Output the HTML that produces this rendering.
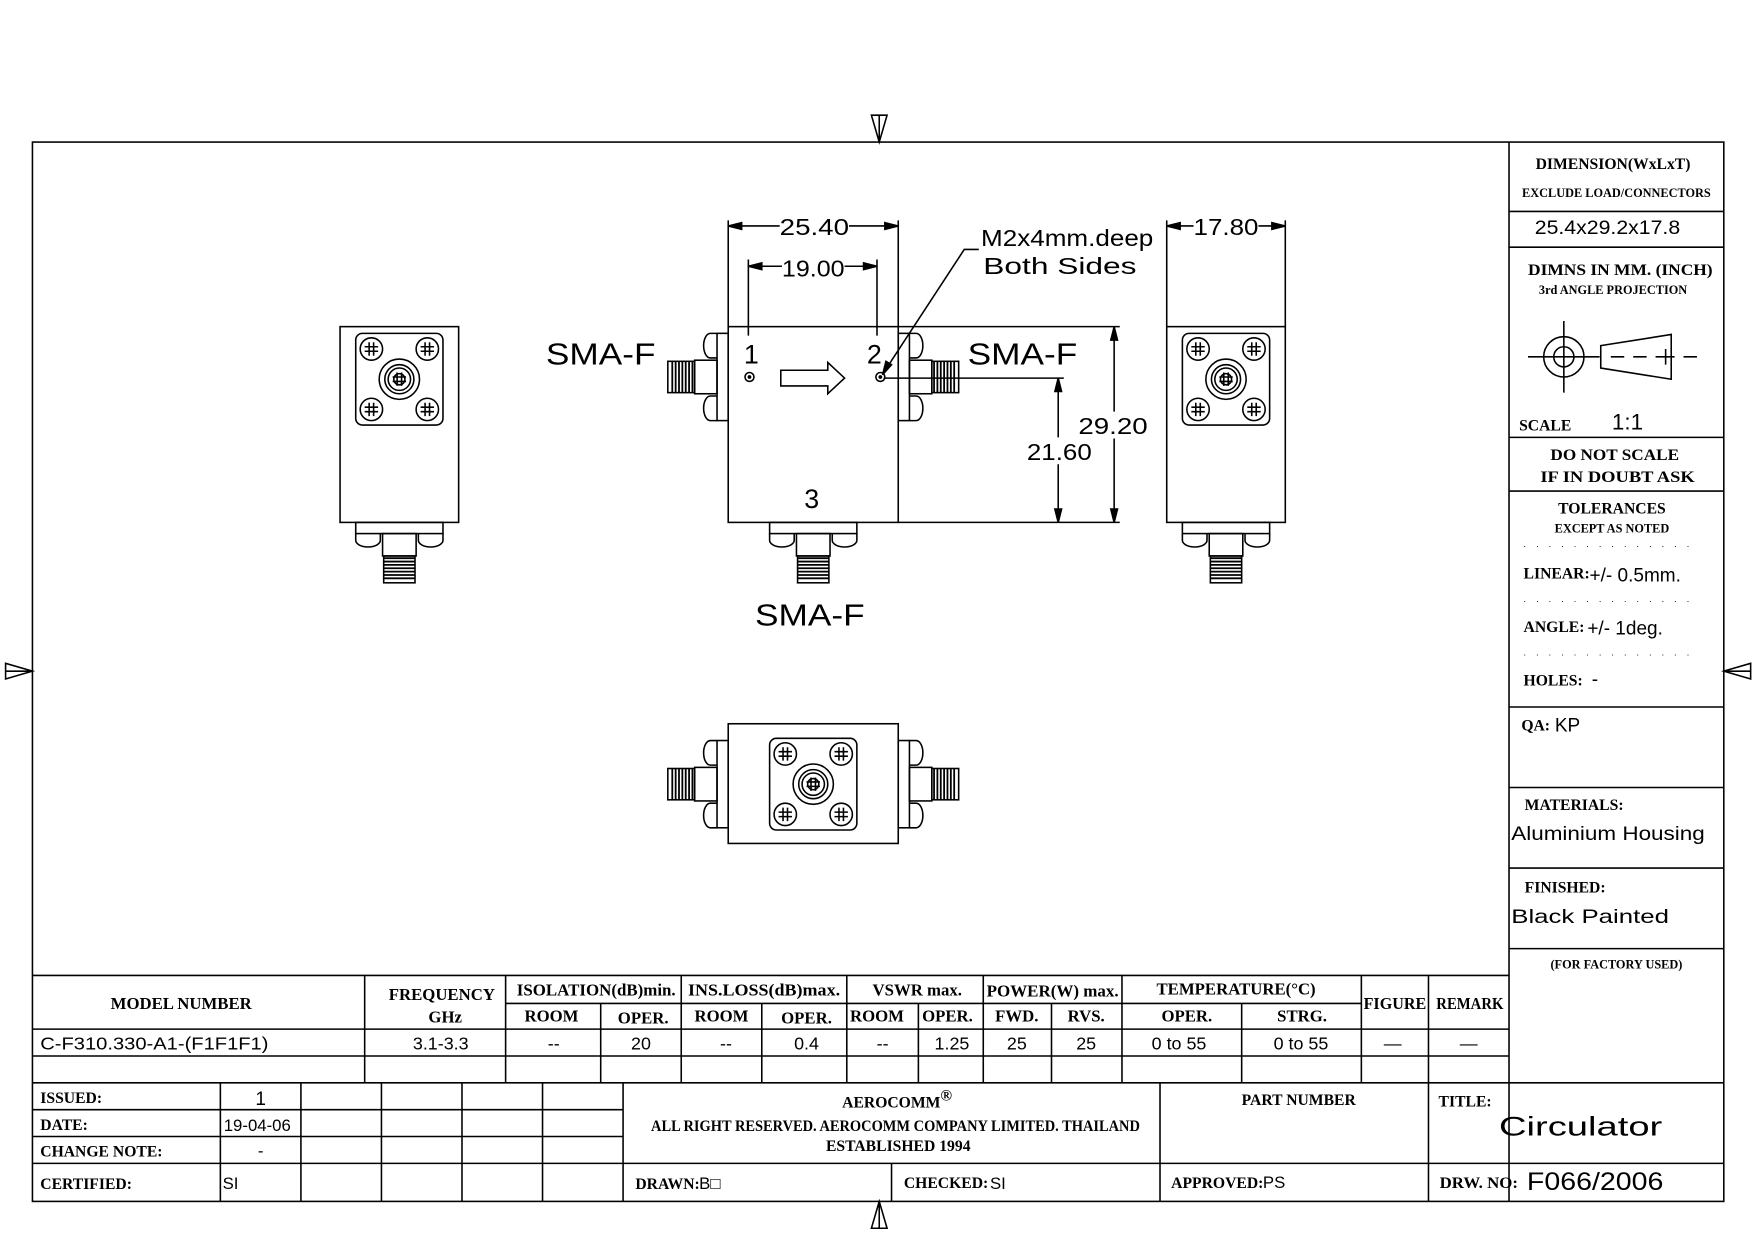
<!DOCTYPE html>
<html><head><meta charset="utf-8"><style>
html,body{margin:0;padding:0;background:#fff}
svg{display:block}
.b{font-family:"Liberation Serif",serif;font-weight:bold;fill:#000}
.s{font-family:"Liberation Sans",sans-serif;fill:#000}
</style></head><body>
<svg width="1754" height="1240" viewBox="0 0 1568 1108.5" preserveAspectRatio="none" xmlns="http://www.w3.org/2000/svg">
<defs>
<g id="conn" fill="none" stroke="#000" stroke-width="1.4">
  <rect x="-10" y="-39" width="10" height="78"/>
  <path d="M-10 -39 H-16 A6 11 0 0 0 -16 -17 H-10"/>
  <path d="M-10 17 H-16 A6 11 0 0 0 -16 39 H-10"/>
  <rect x="-30" y="-15" width="20" height="30"/>
  <rect x="-54" y="-14" width="24" height="28"/>
  <path d="M-50 -14V14M-47 -14V14M-44 -14V14M-41 -14V14M-38 -14V14M-35 -14V14M-32 -14V14" stroke-width="1.6"/>
</g>
<g id="face" fill="none" stroke="#000" stroke-width="1.4">
  <rect x="-39" y="-41" width="78" height="82" rx="6"/>
  <g id="scr"><circle r="10"/><path d="M-6 -2H6M-6 2H6M-2 -6V6M2 -6V6"/></g>
  <use href="#scr" x="-25" y="-27"/><use href="#scr" x="25" y="-27"/><use href="#scr" x="-25" y="27"/><use href="#scr" x="25" y="27"/>
  <circle r="18"/><circle r="13"/><circle r="5"/>
</g>
</defs>
<g fill="none" stroke="#000" stroke-width="1.4">
<rect x="29" y="127" width="1512" height="947"/>
<path d="M779 103 L793 103 L786 127 Z M786 103 V127"/>
<path d="M779 1098 L793 1098 L786 1074 Z M786 1098 V1074"/>
<path d="M5 593 L5 607 L29 600 Z M5 600 H29"/>
<path d="M1565 593 L1565 607 L1541 600 Z M1565 600 H1541"/>
<path d="M1349 127 V1074 M1349 189 H1541 M1349 221 H1541 M1349 391 H1541 M1349 439 H1541 M1349 632 H1541 M1349 704 H1541 M1349 776 H1541 M1349 848 H1541"/>
<circle cx="1398" cy="319" r="18"/><circle cx="1398" cy="319" r="9"/>
<path d="M1366 319 H1430 M1398 287 V351 M1392 319 H1404 M1398 313 V325"/>
<path d="M1431 309 L1494 299 L1494 339 L1431 329 Z M1440 319 H1452 M1460 319 H1472 M1480 319 H1497 M1489 312 V326 M1505 319 H1517" />
<path d="M29 872 H1349 M29 920 H1349 M29 944 H1349 M29 968 H1541 M452 897 H1217"/>
<path d="M326 872 V968 M452 872 V968 M609 872 V968 M757 872 V968 M879 872 V968 M1003 872 V968 M1217 872 V968 M1277 872 V968"/>
<path d="M537 897 V968 M681 897 V968 M821 897 V968 M940 897 V968 M1110 897 V968"/>
<path d="M29 992 H557 M29 1016 H557 M29 1040 H1541 M557 968 V1074 M1037 968 V1074 M1277 968 V1074 M797 1040 V1074"/>
<path d="M197 968 V1074 M269 968 V1074 M341 968 V1074 M413 968 V1074 M485 968 V1074"/>

<rect x="651" y="292" width="152" height="175"/>
<use href="#conn" transform="translate(651,337)"/>
<use href="#conn" transform="translate(803,337) scale(-1,1)"/>
<use href="#conn" transform="translate(727,467) rotate(-90)"/>
<circle cx="670" cy="337" r="4"/><circle cx="670" cy="337" r="1" fill="#000"/>
<circle cx="787" cy="337" r="4"/><circle cx="787" cy="337" r="1" fill="#000"/>
<path d="M698 331 H740 V324 L755 338 L740 352 V345 H698 Z"/>
<path d="M651 197 V292 M803 197 V292 M651 202 H697 M759 202 H803 M669 232 V300 M784 232 V300 M669 238 H699 M755 238 H784"/>
<path d="M651 202 l12 -3 v6 z M803 202 l-12 -3 v6 z M669 238 l12 -3 v6 z M784 238 l-12 -3 v6 z" fill="#000"/>
<path d="M1043 197 V292 M1149 197 V292 M1043 202 H1067 M1125 202 H1149"/>
<path d="M1043 202 l12 -3 v6 z M1149 202 l-12 -3 v6 z" fill="#000"/>
<path d="M803 292 H1001 M803 467 H1001 M996 292 V368 M996 392 V467 M790 338 H951 M946 338 V391 M946 415 V467"/>
<path d="M996 292 l-3 12 h6 z M996 467 l-3 -12 h6 z M946 338 l-3 12 h6 z M946 467 l-3 -12 h6 z" fill="#000"/>
<path d="M875 223 H862 L790 333"/>
<path d="M789 335 l3 -12 l5 3 z" fill="#000"/>
<rect x="304" y="292" width="106" height="175"/>
<use href="#face" transform="translate(357,339)"/>
<use href="#conn" transform="translate(357,467) rotate(-90)"/>
<rect x="1043" y="292" width="106" height="175"/>
<use href="#face" transform="translate(1096,339)"/>
<use href="#conn" transform="translate(1096,467) rotate(-90)"/>
<rect x="651" y="647" width="152" height="107"/>
<use href="#face" transform="translate(727,701)"/>
<use href="#conn" transform="translate(651,701)"/>
<use href="#conn" transform="translate(803,701) scale(-1,1)"/>
</g>

<g class="s" font-size="27">
<text x="488" y="326" textLength="98" lengthAdjust="spacingAndGlyphs">SMA-F</text>
<text x="865" y="326" textLength="98" lengthAdjust="spacingAndGlyphs">SMA-F</text>
<text x="675" y="559" textLength="98" lengthAdjust="spacingAndGlyphs">SMA-F</text>
<text x="665" y="325" font-size="24">1</text>
<text x="775" y="325" font-size="24">2</text>
<text x="719" y="454" font-size="24">3</text>
<g font-size="21">
<text x="697" y="210" textLength="62" lengthAdjust="spacingAndGlyphs">25.40</text>
<text x="699" y="247" textLength="56" lengthAdjust="spacingAndGlyphs">19.00</text>
<text x="1067" y="210" textLength="58" lengthAdjust="spacingAndGlyphs">17.80</text>
<text x="964" y="388" textLength="62" lengthAdjust="spacingAndGlyphs">29.20</text>
<text x="918" y="411" textLength="58" lengthAdjust="spacingAndGlyphs">21.60</text>
<text x="877" y="220" textLength="154" lengthAdjust="spacingAndGlyphs">M2x4mm.deep</text>
<text x="879" y="245" textLength="137" lengthAdjust="spacingAndGlyphs">Both Sides</text>
</g>
</g>

<g class="b" font-size="14">
<text x="1442" y="151" text-anchor="middle">DIMENSION(WxLxT)</text>
<text x="1445" y="176" text-anchor="middle" font-size="11">EXCLUDE LOAD/CONNECTORS</text>
<text x="1366" y="246" textLength="165" lengthAdjust="spacingAndGlyphs">DIMNS IN MM. (INCH)</text>
<text x="1442" y="263" text-anchor="middle" font-size="11">3rd ANGLE PROJECTION</text>
<text x="1358" y="385">SCALE</text>
<text x="1386" y="411" textLength="115" lengthAdjust="spacingAndGlyphs">DO NOT SCALE</text>
<text x="1377" y="431" textLength="138" lengthAdjust="spacingAndGlyphs">IF IN DOUBT ASK</text>
<text x="1441" y="459" text-anchor="middle">TOLERANCES</text>
<text x="1441" y="476" text-anchor="middle" font-size="11">EXCEPT AS NOTED</text>
<text x="1362" y="517">LINEAR:</text>
<text x="1362" y="565">ANGLE:</text>
<text x="1362" y="613">HOLES:</text>
<text x="1360" y="653">QA:</text>
<text x="1363" y="724">MATERIALS:</text>
<text x="1363" y="798">FINISHED:</text>
<text x="1445" y="866" text-anchor="middle" font-size="11">(FOR FACTORY USED)</text>
</g>
<g class="s" font-size="17">
<text x="1372" y="209" textLength="130" lengthAdjust="spacingAndGlyphs">25.4x29.2x17.8</text>
<text x="1441" y="384" font-size="20">1:1</text>
<text x="1421" y="520">+/-  0.5mm.</text>
<text x="1419" y="567">+/-  1deg.</text>
<text x="1423" y="613">-</text>
<text x="1390" y="654">KP</text>
<text x="1351" y="751" textLength="173" lengthAdjust="spacingAndGlyphs">Aluminium Housing</text>
<text x="1351" y="825" textLength="141" lengthAdjust="spacingAndGlyphs">Black Painted</text>
</g>
<g fill="#999" font-size="8" class="s"><text x="1362" y="489" letter-spacing="9">..............</text><text x="1362" y="538" letter-spacing="9">..............</text><text x="1362" y="586" letter-spacing="9">..............</text></g>

<g class="b" font-size="15" text-anchor="middle">
<text x="162" y="902">MODEL NUMBER</text>
<text x="395" y="894">FREQUENCY</text>
<text x="398" y="914">GHz</text>
<text x="533" y="890" textLength="142" lengthAdjust="spacingAndGlyphs">ISOLATION(dB)min.</text>
<text x="683" y="890" textLength="136" lengthAdjust="spacingAndGlyphs">INS.LOSS(dB)max.</text>
<text x="820" y="890">VSWR  max.</text>
<text x="941" y="891" textLength="118" lengthAdjust="spacingAndGlyphs">POWER(W)  max.</text>
<text x="1105" y="889">TEMPERATURE(°C)</text>
<text x="1247" y="902" textLength="56" lengthAdjust="spacingAndGlyphs">FIGURE</text>
<text x="1314" y="902" textLength="60" lengthAdjust="spacingAndGlyphs">REMARK</text>
<text x="493" y="913">ROOM</text><text x="575" y="915">OPER.</text>
<text x="645" y="913">ROOM</text><text x="721" y="915">OPER.</text>
<text x="784" y="913">ROOM</text><text x="847" y="913">OPER.</text>
<text x="909" y="913">FWD.</text><text x="971" y="913">RVS.</text>
<text x="1061" y="913">OPER.</text><text x="1164" y="913">STRG.</text>
</g>
<g class="s" font-size="16" text-anchor="middle">
<text x="36" y="938" text-anchor="start" textLength="204" lengthAdjust="spacingAndGlyphs">C-F310.330-A1-(F1F1F1)</text>
<text x="394" y="938">3.1-3.3</text>
<text x="495" y="938">--</text><text x="573" y="938">20</text>
<text x="649" y="938">--</text><text x="721" y="938">0.4</text>
<text x="789" y="938">--</text><text x="851" y="938">1.25</text>
<text x="909" y="938">25</text><text x="971" y="938">25</text>
<text x="1054" y="938">0 to 55</text><text x="1163" y="938">0 to 55</text>
<text x="1245" y="938">—</text><text x="1313" y="938">—</text>
</g>
<g class="b" font-size="14">
<text x="36" y="986">ISSUED:</text>
<text x="36" y="1010">DATE:</text>
<text x="36" y="1034">CHANGE NOTE:</text>
<text x="36" y="1063">CERTIFIED:</text>
<text x="802" y="990" text-anchor="middle">AEROCOMM<tspan font-size="14" dy="-6">®</tspan></text>
<text x="582" y="1011" textLength="437" lengthAdjust="spacingAndGlyphs">ALL RIGHT RESERVED. AEROCOMM COMPANY LIMITED. THAILAND</text>
<text x="803" y="1029" text-anchor="middle">ESTABLISHED 1994</text>
<text x="1161" y="988" text-anchor="middle">PART NUMBER</text>
<text x="1286" y="989">TITLE:</text>
<text x="568" y="1063">DRAWN:</text>
<text x="808" y="1062">CHECKED:</text>
<text x="1047" y="1062">APPROVED:</text>
<text x="1287" y="1062" textLength="70" lengthAdjust="spacingAndGlyphs">DRW.  NO:</text>
</g>
<g class="s" font-size="15">
<text x="233" y="988" text-anchor="middle" font-size="17">1</text>
<text x="200" y="1011">19-04-06</text>
<text x="233" y="1034" text-anchor="middle">-</text>
<text x="199" y="1063">SI</text>
<text x="625" y="1063">B□</text>
<text x="885" y="1063">SI</text>
<text x="1129" y="1062">PS</text>
<text x="1340" y="1015" font-size="24" textLength="146" lengthAdjust="spacingAndGlyphs">Circulator</text>
<text x="1365" y="1064" font-size="22" textLength="122" lengthAdjust="spacingAndGlyphs">F066/2006</text>
</g>
</svg>
</body></html>
